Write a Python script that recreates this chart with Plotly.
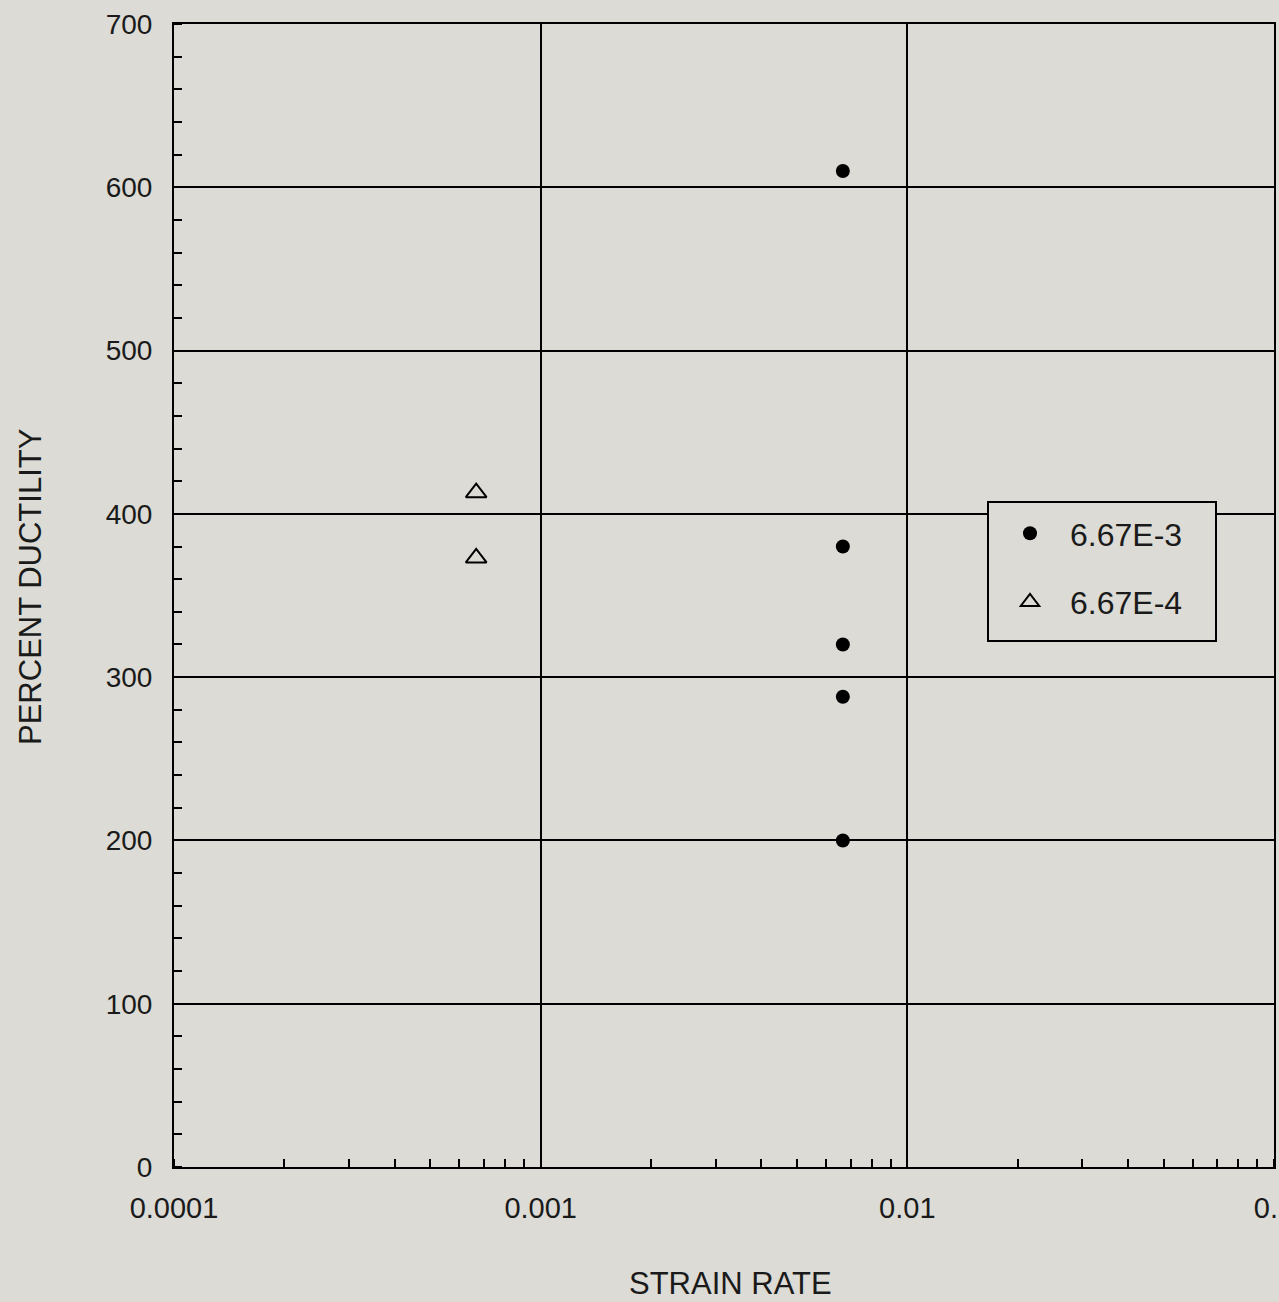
import plotly.graph_objects as go

# data
rate_fast = [6.67e-3, 6.67e-3, 6.67e-3, 6.67e-3, 6.67e-3]
ductility_fast = [610, 380, 320, 288, 200]
rate_slow = [6.67e-4, 6.67e-4]
ductility_slow = [413, 373]
series_names = ["6.67E-3", "6.67E-4"]
x_tickvals = [1e-4, 1e-3, 1e-2, 1e-1]
x_ticktext = ["0.0001", "0.001", "0.01", "0.1"]
y_tickvals = [0, 100, 200, 300, 400, 500, 600, 700]

BG = "#dcdbd5"
FONT = "Liberation Sans, Arial, sans-serif"
TXT = "#1a1a1a"

fig = go.Figure()
fig.add_trace(go.Scatter(
    x=rate_fast, y=ductility_fast, mode="markers", name=series_names[0],
    legendgroup="a",
    marker=dict(symbol="circle", size=14, color="black", line=dict(width=0)),
))
fig.add_trace(go.Scatter(
    x=rate_slow, y=ductility_slow, mode="markers", name=series_names[1],
    legendgroup="b",
    marker=dict(symbol="triangle-up-open", size=18, color="black", line=dict(width=2, color="black")),
))

# legend frame (drawn as a shape so its size can match the reference)
fig.add_shape(
    type="rect", xref="paper", yref="paper",
    x0=(988 - 174) / 1100, x1=(1216 - 174) / 1100,
    y0=(1167 - 641) / 1143, y1=(1167 - 502) / 1143,
    fillcolor=BG, line=dict(color="black", width=2), layer="above",
)

fig.update_layout(
    width=1279, height=1302,
    margin=dict(l=174, r=5, t=24, b=135),
    paper_bgcolor=BG, plot_bgcolor=BG,
    font=dict(family=FONT, size=28, color=TXT),
    showlegend=True,
    legend=dict(
        x=(990 - 174) / 1100, y=(1167 - 506) / 1143,
        xanchor="left", yanchor="top",
        bgcolor="rgba(0,0,0,0)", borderwidth=0,
        font=dict(family=FONT, size=32, color=TXT),
        tracegroupgap=24, itemwidth=70,
    ),
)

fig.update_xaxes(
    type="log", range=[-4, -1],
    tickvals=x_tickvals, ticktext=x_ticktext,
    showgrid=True, gridcolor="black", gridwidth=2,
    showline=True, linecolor="black", linewidth=2, mirror=True,
    ticks="", automargin=False, zeroline=False,
    ticklabelstandoff=14, ticklabeloverflow="allow",
    minor=dict(ticks="inside", ticklen=8, tickcolor="black", tickwidth=2,
               dtick="D1", showgrid=False),
    tickfont=dict(size=29),
)
fig.update_yaxes(
    range=[0, 700], tickvals=y_tickvals,
    showgrid=True, gridcolor="black", gridwidth=2,
    showline=True, linecolor="black", linewidth=2, mirror=True,
    ticks="", automargin=False, zeroline=False,
    ticklabelstandoff=14,
    minor=dict(ticks="inside", ticklen=8, tickcolor="black", tickwidth=2,
               dtick=20, showgrid=False),
    tickfont=dict(size=28),
)

fig.add_annotation(
    text="PERCENT DUCTILITY", textangle=-90,
    xref="paper", yref="paper", x=0, y=(1167 - 587) / 1143,
    xshift=-144, xanchor="center", yanchor="middle", showarrow=False,
    font=dict(family=FONT, size=31, color=TXT),
)
fig.add_annotation(
    text="STRAIN RATE",
    xref="paper", yref="paper", x=(730 - 174) / 1100, y=0,
    yshift=-116, xanchor="center", yanchor="middle", showarrow=False,
    font=dict(family=FONT, size=31, color=TXT),
)

fig.write_html("out.html")
